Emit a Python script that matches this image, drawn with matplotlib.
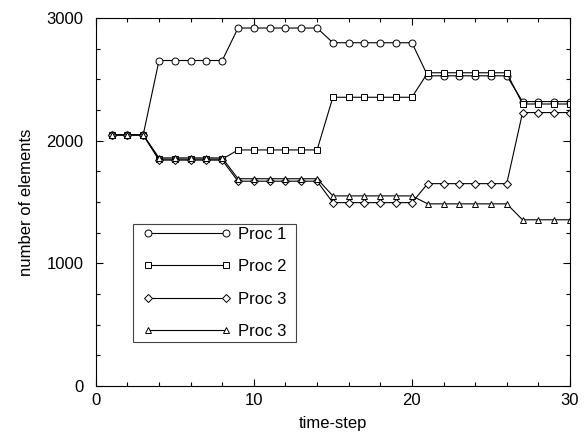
import numpy as np
import matplotlib
matplotlib.use('Agg')
import matplotlib.pyplot as plt
from matplotlib.ticker import MultipleLocator

# values, one per time-step (1..30)
steps = np.arange(1, 31)
proc1 = [2048]*3 + [2655]*5 + [2920]*6 + [2800]*6 + [2530]*6 + [2320]*4
proc2 = [2048]*3 + [1850]*5 + [1925]*6 + [2355]*6 + [2555]*6 + [2300]*4
proc3 = [2048]*3 + [1842]*5 + [1670]*6 + [1495]*6 + [1650]*6 + [2230]*4
proc4 = [2048]*3 + [1860]*5 + [1690]*6 + [1550]*6 + [1485]*6 + [1355]*4
labels = ['Proc 1', 'Proc 2', 'Proc 3', 'Proc 3']
markers = ['o', 's', 'D', '^']

plt.rcParams['font.family'] = ['Liberation Sans', 'DejaVu Sans']
plt.rcParams['font.size'] = 12

fig = plt.figure(figsize=(5.84, 4.34), dpi=100)
ax = fig.add_axes([0.164, 0.111, 0.812, 0.847])

for y, m, lab in zip([proc1, proc2, proc3, proc4], markers, labels):
    ms = 4.5 if m == 'D' else 5
    ax.plot(steps, y, color='black', lw=0.8, marker=m, ms=ms,
            mfc='white', mec='black', mew=0.7, label=lab)

ax.set_xlim(0, 30)
ax.set_ylim(0, 3000)
ax.xaxis.set_major_locator(MultipleLocator(10))
ax.xaxis.set_minor_locator(MultipleLocator(2))
ax.yaxis.set_major_locator(MultipleLocator(1000))
ax.yaxis.set_minor_locator(MultipleLocator(250))
ax.tick_params(which='both', direction='in', top=True, right=True, width=0.8)
ax.tick_params(which='major', length=5, labelsize=12)
ax.tick_params(axis='y', which='major', pad=9)
ax.tick_params(axis='x', which='major', pad=5)
ax.tick_params(which='minor', length=3)
for s in ax.spines.values():
    s.set_linewidth(0.8)

ax.set_xlabel('time-step', fontsize=12, labelpad=6)
ax.set_ylabel('number of elements', fontsize=12, labelpad=9)

leg = ax.legend(loc='lower left', bbox_to_anchor=(0.0935, 0.12), borderaxespad=0,
                numpoints=2, handlelength=5.3, fancybox=False, framealpha=1,
                edgecolor='#444444', labelspacing=1.05, handletextpad=0.4,
                borderpad=0.15, fontsize=12)
frame = leg.get_frame()
frame.set_linewidth(0.8)
# extra padding left/right only
frame.set_boxstyle('square', pad=0.45)
frame.set_mutation_aspect(0.01)

fig.savefig('out.png', dpi=100)
